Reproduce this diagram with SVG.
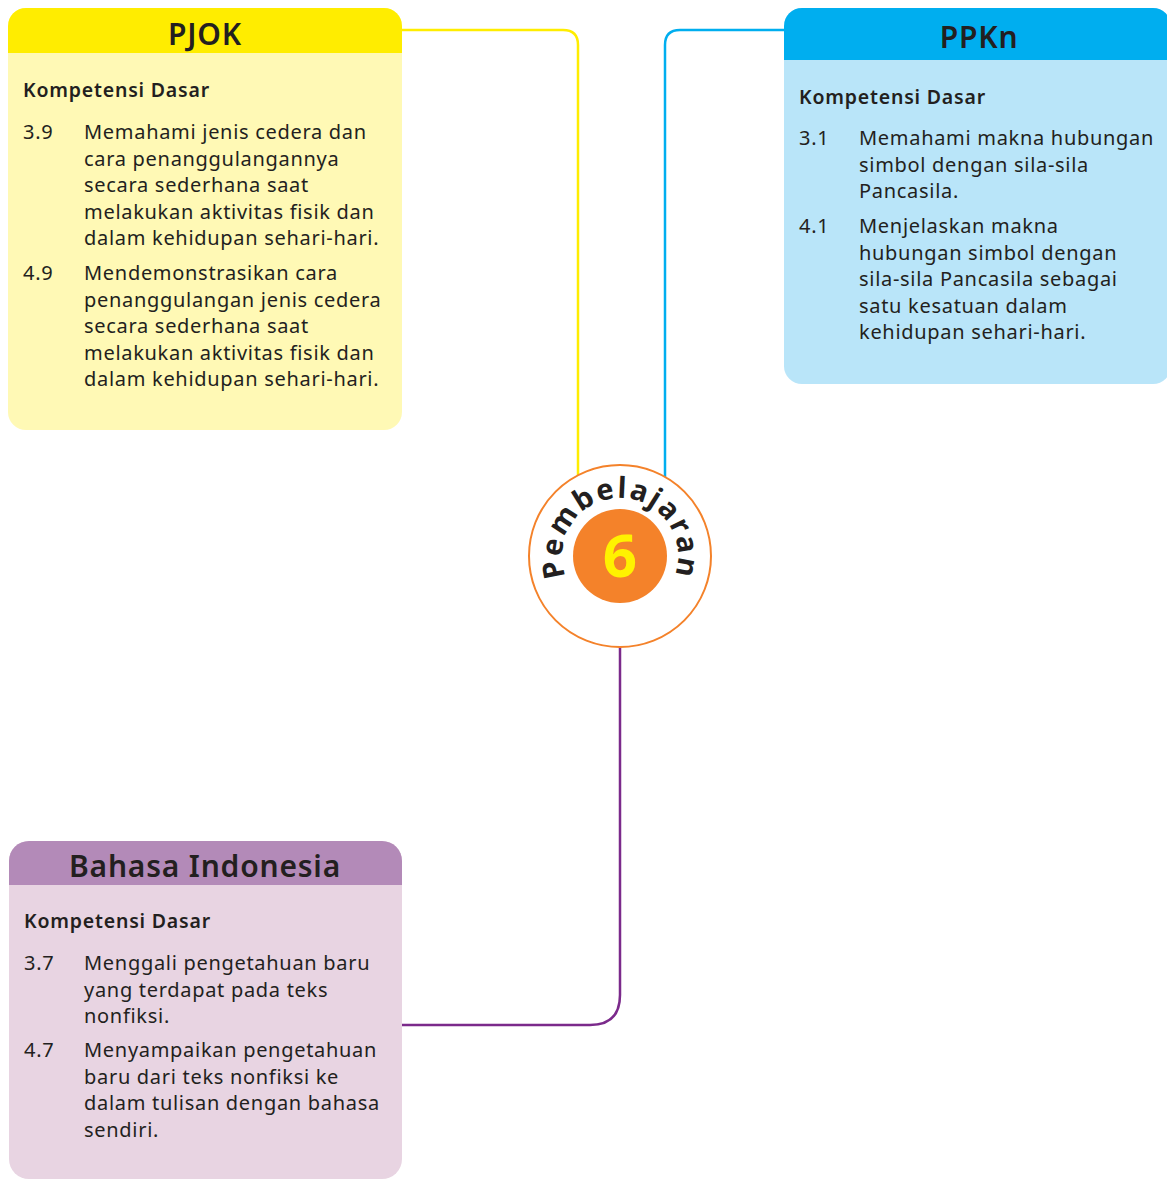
<svg xmlns="http://www.w3.org/2000/svg" width="1167" height="1179" viewBox="0 0 1167 1179">
  <style>
    .title { font-family: "Noto Sans", "DejaVu Sans", sans-serif; font-size: 30px; font-weight: 600; fill: #231f20; text-anchor: middle; letter-spacing: 0.8px; }
    .sub { font-family: "Noto Sans", "DejaVu Sans", sans-serif; font-size: 19.5px; font-weight: 600; fill: #231f20; letter-spacing: 0.8px; }
    .body { font-family: "Noto Sans", "DejaVu Sans", sans-serif; font-size: 20px; fill: #231f20; letter-spacing: 0.7px; }
    .link { fill: none; stroke-width: 2.5; }
  </style>
  <defs>
    <clipPath id="clipPjok"><rect x="8" y="8" width="394" height="422" rx="18"/></clipPath>
    <clipPath id="clipPpkn"><rect x="784" y="8" width="387" height="376" rx="18"/></clipPath>
    <clipPath id="clipBind"><rect x="9" y="841" width="393" height="338" rx="20"/></clipPath>
    <!-- baseline arc for the curved badge label -->
    <path id="arcText" d="M 572.5,589.3 A 58 58 0 1 1 667.5,589.3"/>
  </defs>

  <rect width="1167" height="1179" fill="#ffffff"/>

  <!-- connectors -->
  <g id="connectors">
    <path class="link" stroke="#ffed00" d="M 402,30 H 563 Q 578,30 578,45 V 476"/>
    <path class="link" stroke="#00aeef" d="M 784,30 H 680 Q 665,30 665,45 V 478"/>
    <path class="link" stroke="#7b2a8b" d="M 620,647 V 995 Q 620,1025 590,1025 H 402"/>
  </g>

  <!-- PJOK -->
  <g id="pjok">
    <g clip-path="url(#clipPjok)">
      <rect x="8" y="8" width="394" height="422" fill="#fff9b5"/>
      <rect x="8" y="8" width="394" height="45" fill="#ffed00"/>
    </g>
    <text class="title" x="205" y="45">PJOK</text>
    <text class="sub" x="23" y="97">Kompetensi Dasar</text>
    <text class="body" x="23" y="139">3.9</text>
    <text class="body">
      <tspan x="84" y="139">Memahami jenis cedera dan</tspan>
      <tspan x="84" y="165.5">cara penanggulangannya</tspan>
      <tspan x="84" y="192">secara sederhana saat</tspan>
      <tspan x="84" y="218.5">melakukan aktivitas fisik dan</tspan>
      <tspan x="84" y="245">dalam kehidupan sehari-hari.</tspan>
    </text>
    <text class="body" x="23" y="280">4.9</text>
    <text class="body">
      <tspan x="84" y="280">Mendemonstrasikan cara</tspan>
      <tspan x="84" y="306.5">penanggulangan jenis cedera</tspan>
      <tspan x="84" y="333">secara sederhana saat</tspan>
      <tspan x="84" y="359.5">melakukan aktivitas fisik dan</tspan>
      <tspan x="84" y="386">dalam kehidupan sehari-hari.</tspan>
    </text>
  </g>

  <!-- PPKn -->
  <g id="ppkn">
    <g clip-path="url(#clipPpkn)">
      <rect x="784" y="8" width="387" height="376" fill="#b9e5f9"/>
      <rect x="784" y="8" width="387" height="52" fill="#00aeef"/>
    </g>
    <text class="title" x="979" y="48">PPKn</text>
    <text class="sub" x="799" y="104">Kompetensi Dasar</text>
    <text class="body" x="799" y="145">3.1</text>
    <text class="body">
      <tspan x="859" y="145">Memahami makna hubungan</tspan>
      <tspan x="859" y="171.5">simbol dengan sila-sila</tspan>
      <tspan x="859" y="198">Pancasila.</tspan>
    </text>
    <text class="body" x="799" y="233">4.1</text>
    <text class="body">
      <tspan x="859" y="233">Menjelaskan makna</tspan>
      <tspan x="859" y="259.5">hubungan simbol dengan</tspan>
      <tspan x="859" y="286">sila-sila Pancasila sebagai</tspan>
      <tspan x="859" y="312.5">satu kesatuan dalam</tspan>
      <tspan x="859" y="339">kehidupan sehari-hari.</tspan>
    </text>
  </g>

  <!-- Bahasa Indonesia -->
  <g id="bahasa-indonesia">
    <g clip-path="url(#clipBind)">
      <rect x="9" y="841" width="393" height="338" fill="#e8d4e2"/>
      <rect x="9" y="841" width="393" height="44" fill="#b38ab8"/>
    </g>
    <text class="title" x="205" y="877">Bahasa Indonesia</text>
    <text class="sub" x="24" y="928">Kompetensi Dasar</text>
    <text class="body" x="24" y="970">3.7</text>
    <text class="body">
      <tspan x="84" y="970">Menggali pengetahuan baru</tspan>
      <tspan x="84" y="996.5">yang terdapat pada teks</tspan>
      <tspan x="84" y="1023">nonfiksi.</tspan>
    </text>
    <text class="body" x="24" y="1057">4.7</text>
    <text class="body">
      <tspan x="84" y="1057">Menyampaikan pengetahuan</tspan>
      <tspan x="84" y="1083.5">baru dari teks nonfiksi ke</tspan>
      <tspan x="84" y="1110">dalam tulisan dengan bahasa</tspan>
      <tspan x="84" y="1136.5">sendiri.</tspan>
    </text>
  </g>

  <!-- central badge -->
  <g id="pembelajaran-6">
    <circle cx="620" cy="556" r="91" fill="#ffffff" stroke="#f4822a" stroke-width="2"/>
    <circle cx="620" cy="556" r="47" fill="#f4822a"/>
    <text x="620" y="577" font-family="Noto Sans, DejaVu Sans, sans-serif" font-size="60" font-weight="700" fill="#fff200" text-anchor="middle">6</text>
    <text font-family="Noto Sans, DejaVu Sans, sans-serif" font-size="29" font-weight="700" fill="#231f20" letter-spacing="2">
      <textPath href="#arcText" startOffset="50%" text-anchor="middle">Pembelajaran</textPath>
    </text>
  </g>
</svg>
